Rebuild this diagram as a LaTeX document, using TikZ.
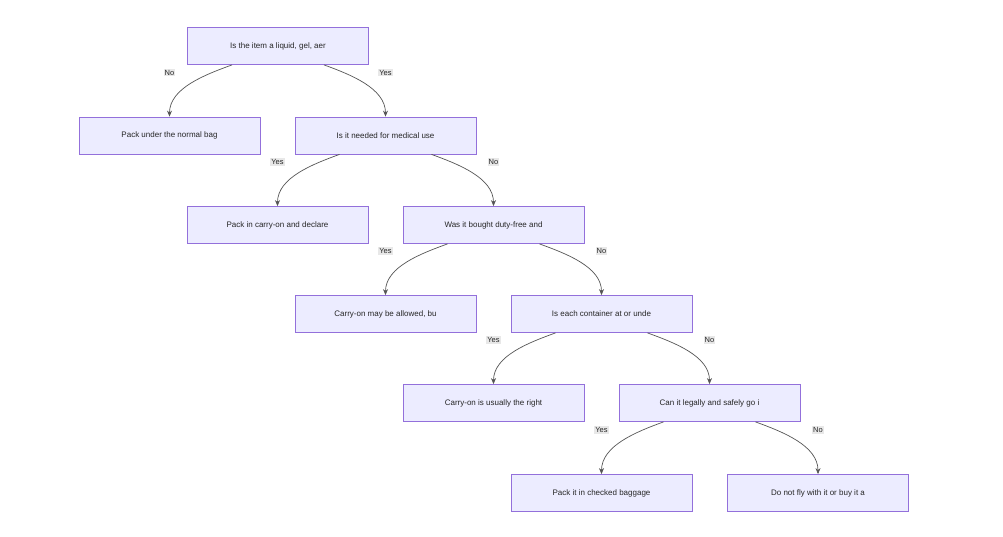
\documentclass[tikz,border=0pt]{standalone}
\usepackage{fontspec}
\setmainfont{Liberation Sans}
\usetikzlibrary{arrows.meta}
\definecolor{boxfill}{HTML}{ECECFF}
\definecolor{boxdraw}{HTML}{9370DB}
\definecolor{lblfill}{HTML}{E8E8E8}
\definecolor{edge}{HTML}{555555}
\begin{document}
\begin{tikzpicture}[x=1pt,y=-1pt,
  box/.style={draw=boxdraw,fill=boxfill,line width=0.8pt,minimum width=181pt,minimum height=37pt,inner sep=2pt,font=\fontsize{8}{10}\selectfont,text=black!85},
  lbl/.style={fill=lblfill,inner sep=1pt,font=\fontsize{7.5}{9}\selectfont,text=black!85},
  e/.style={draw=edge,line width=0.7pt,-{Stealth[length=6pt,width=5pt]}},
  eL/.style={e,out=200,in=90,looseness=0.9},
  eR/.style={e,out=-20,in=90,looseness=0.9}]
\useasboundingbox[fill=white] (0,0) rectangle (1003,537);
\node[box] (A) at (278,46) {Is the item a liquid, gel, aer};
\node[box] (B) at (169.5,135.5) {Pack under the normal bag};
\node[box] (C) at (385.5,135.5) {Is it needed for medical use};
\node[box] (D) at (277.5,225) {Pack in carry-on and declare};
\node[box] (E) at (493.5,225) {Was it bought duty-free and};
\node[box] (F) at (385.5,314) {Carry-on may be allowed, bu};
\node[box] (G) at (601.5,314) {Is each container at or unde};
\node[box] (H) at (493.5,403) {Carry-on is usually the right};
\node[box] (I) at (709.5,403) {Can it legally and safely go i};
\node[box] (J) at (601.5,493) {Pack it in checked baggage};
\node[box] (K) at (818,493) {Do not fly with it or buy it a};
\foreach \p/\l/\r in {A/B/C,C/D/E,E/F/G,G/H/I,I/J/K}{
  \draw[eL] ([xshift=-46pt]\p.south) to (\l.north);
  \draw[eR] ([xshift=46pt]\p.south) to (\r.north);
}
\node[lbl] (lb) at ([yshift=44pt]B.north) {No};
\node[lbl] (lc) at ([yshift=44pt]C.north) {Yes};
\node[lbl] (ld) at ([yshift=44pt]D.north) {Yes};
\node[lbl] (le) at ([yshift=44pt]E.north) {No};
\node[lbl] (lf) at ([yshift=44pt]F.north) {Yes};
\node[lbl] (lg) at ([yshift=44pt]G.north) {No};
\node[lbl] (lh) at ([yshift=44pt]H.north) {Yes};
\node[lbl] (li) at ([yshift=44pt]I.north) {No};
\node[lbl] (lj) at ([yshift=44pt]J.north) {Yes};
\node[lbl] (lk) at ([yshift=44pt]K.north) {No};
\end{tikzpicture}
\end{document}
